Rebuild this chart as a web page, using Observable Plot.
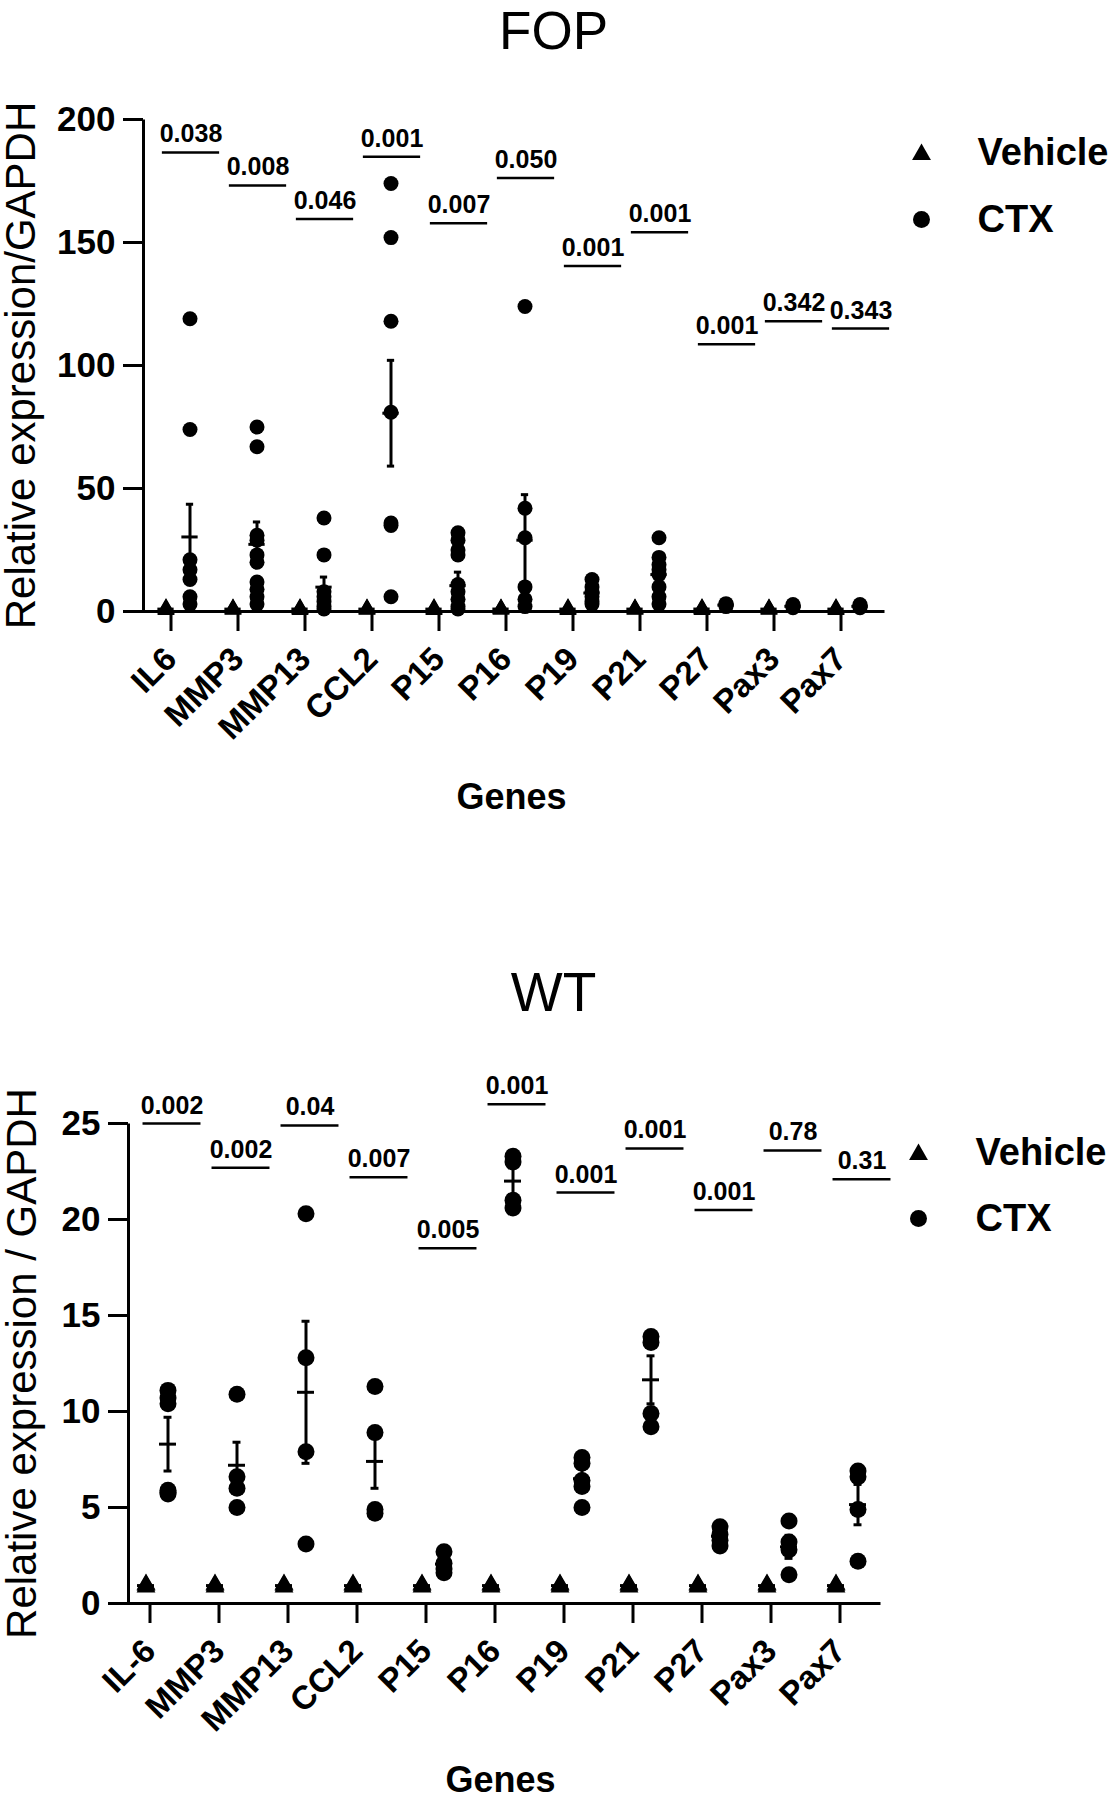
<!DOCTYPE html>
<html><head><meta charset="utf-8">
<script src="https://cdn.jsdelivr.net/npm/d3@7"></script>
<script src="https://cdn.jsdelivr.net/npm/@observablehq/plot@0.6"></script>
<style>
html,body{margin:0;padding:0;background:#fff;}
body{width:1111px;height:1800px;overflow:hidden;}
#chart svg{display:block;}
</style></head><body><div id="chart"></div>
<script>
// ---------- FOP panel data ----------
const genesFOP = ["IL6","MMP3","MMP13","CCL2","P15","P16","P19","P21","P27","Pax3","Pax7"];
const fopVehicle = [
  [0.6,1.0,1.4,0.9],[0.7,1.0,1.3,0.9],[0.6,1.0,1.4,1.0],[0.7,1.0,1.3,0.9],
  [0.6,1.0,1.4,0.9],[0.7,1.0,1.3,1.0],[0.6,1.0,1.4,0.9],[0.7,1.0,1.3,0.9],
  [0.6,1.0,1.4,1.0],[0.7,1.0,1.3,0.9],[0.6,1.0,1.4,0.9]
];
const fopCTX = [
  [119,74,21,17,13,6,3],
  [75,67,31,29,23,20,12,9,6,3],
  [38,23,8,6,4,2,1],
  [174,152,118,81,36,35,6],
  [32,29,25,23,11,8,5,2,1],
  [124,42,30,10,5,2],
  [13,10,8,6,4,3],
  [30,22,19,17,15,10,6,3],
  [3.2,2.8,2.4,2.0],
  [2.8,2.3,1.9,1.5],
  [2.8,2.3,1.9,1.5]
];
const fopCTXMean = [30.3,27.3,9.9,80.6,10.5,29,7.5,15,2.6,2.1,2.1];
const fopCTXSem  = [13.3,9.1,4.1,21.5,5.5,18.5,1.5,3,0.3,0.3,0.3];
const fopP  = ["0.038","0.008","0.046","0.001","0.007","0.050","0.001","0.001","0.001","0.342","0.343"];
const fopPY = [186.6,173.2,159.6,184.9,157.8,176.2,140.4,154.2,108.6,118,115];
const fopYTicks = [0,50,100,150,200];

// ---------- WT panel data ----------
const genesWT = ["IL-6","MMP3","MMP13","CCL2","P15","P16","P19","P21","P27","Pax3","Pax7"];
const wtVehicle = [
  [0.85,0.95,1.0],[0.85,0.95,1.0],[0.85,0.95,1.0],[0.85,0.95,1.0],
  [0.85,0.95,1.0],[0.85,0.95,1.0],[0.85,0.95,1.0],[0.85,0.95,1.0],
  [0.85,0.95,1.0],[0.85,0.95,1.0],[0.85,0.95,1.0]
];
const wtCTX = [
  [11.1,10.7,10.4,5.9,5.8,5.7],
  [10.9,6.6,6.0,5.0],
  [20.3,12.8,7.9,3.1],
  [11.3,8.9,4.9,4.7],
  [2.7,2.1,1.8,1.6],
  [23.3,23.0,21.0,20.6],
  [7.6,7.3,6.4,6.1,5.0],
  [13.9,13.6,9.9,9.2],
  [4.0,3.6,3.3,3.0],
  [4.3,3.2,2.8,1.5],
  [6.9,6.6,4.9,2.2]
];
const wtCTXMean = [8.3,7.2,11.0,7.4,2.05,22.0,6.5,11.65,3.5,2.95,5.15];
const wtCTXSem  = [1.4,1.2,3.7,1.4,0.25,0.7,0.5,1.25,0.2,0.6,1.05];
const wtP  = ["0.002","0.002","0.04","0.007","0.005","0.001","0.001","0.001","0.001","0.78","0.31"];
const wtPY = [25.0,22.7,24.9,22.2,18.5,26.0,21.4,23.7,20.5,23.6,22.1];
const wtYTicks = [0,5,10,15,20,25];

const legendLabels = ["Vehicle","CTX"];

const W = 1111;
const FONT = "'Liberation Sans', Arial, Helvetica, sans-serif";

function panel(o) {
  const fw = W - o.ml - o.mr;
  const fh = o.h - o.mt - o.mb;
  const bw = (fw - o.insetL) / o.genes.length;
  const vehRows = o.genes.flatMap((g, i) => o.veh[i].map(v => ({gene: g, value: v})));
  const ctxRows = o.genes.flatMap((g, i) => o.ctx[i].map(v => ({gene: g, value: v})));
  const vehStat = o.genes.map((g, i) => ({gene: g, mean: d3.mean(o.veh[i])}));
  const ctxStat = o.genes.map((g, i) => ({gene: g, mean: o.mean[i], lo: o.mean[i] - o.sem[i], hi: o.mean[i] + o.sem[i]}));
  const pRows = o.genes.map((g, i) => ({gene: g, y: o.pY[i], label: o.p[i]}));
  const ins = w => (bw - w) / 2;
  const right = W - o.mr;
  return Plot.plot({
    width: W, height: o.h,
    marginLeft: o.ml, marginRight: o.mr, marginTop: o.mt, marginBottom: o.mb,
    style: {fontFamily: FONT, background: "white", color: "black", overflow: "visible"},
    x: {type: "band", domain: o.genes, paddingInner: 0, paddingOuter: 0, insetLeft: o.insetL, axis: null},
    y: {domain: o.yDomain, axis: null},
    marks: [
      Plot.frame({stroke: "black", strokeWidth: 3, strokeDasharray: `0,${fw + fh},${fw + fh}`}),
      Plot.axisY({ticks: o.yTicks, tickSize: 20, tickPadding: 8, fontSize: 35, fontWeight: "bold", strokeWidth: 3, label: null}),
      Plot.axisX({tickSize: 20, tickRotate: -45, tickPadding: 22, fontSize: 33, fontWeight: "bold", strokeWidth: 3, label: null, dx: -6}),
      // CTX error bars
      Plot.ruleX(ctxStat, {x: "gene", y1: "lo", y2: "hi", dx: o.ctxDx, strokeWidth: 3}),
      Plot.tickY(ctxStat, {x: "gene", y: "hi", dx: o.ctxDx, insetLeft: ins(8), insetRight: ins(8), strokeWidth: 3}),
      Plot.tickY(ctxStat, {x: "gene", y: "lo", dx: o.ctxDx, insetLeft: ins(8), insetRight: ins(8), strokeWidth: 3}),
      // points
      Plot.dot(vehRows, {x: "gene", y: "value", dx: o.vehDx, symbol: "triangle", r: o.rv, fill: "black"}),
      Plot.tickY(vehStat, {x: "gene", y: "mean", dx: o.vehDx, insetLeft: ins(17), insetRight: ins(17), strokeWidth: 3}),
      Plot.dot(ctxRows, {x: "gene", y: "value", dx: o.ctxDx, symbol: "circle", r: o.rc, fill: "black"}),
      Plot.tickY(ctxStat, {x: "gene", y: "mean", dx: o.ctxDx, insetLeft: ins(17), insetRight: ins(17), strokeWidth: 3}),
      // p-value annotations
      Plot.tickY(pRows, {x: "gene", y: "y", dx: o.pDx, insetLeft: ins(58), insetRight: ins(58), strokeWidth: 2.5}),
      Plot.text(pRows, {x: "gene", y: "y", text: "label", dx: o.pDx, dy: -10, lineAnchor: "bottom", fontSize: 25, fontWeight: "bold"}),
      // title
      Plot.text([o.title], {text: d => d, frameAnchor: "top-left", dx: 553 - o.ml, dy: o.titleBase - o.mt, lineAnchor: "bottom", textAnchor: "middle", fontSize: o.titleSize}),
      // y label
      Plot.text([o.ylabel], {text: d => d, frameAnchor: "left", dx: o.ylabX - o.ml, rotate: -90, lineAnchor: "middle", textAnchor: "middle", fontSize: 42}),
      // x label
      Plot.text(["Genes"], {text: d => d, frameAnchor: "bottom", dx: o.genesX - (o.ml + fw / 2), dy: o.genesBase - (o.mt + fh), lineAnchor: "bottom", textAnchor: "middle", fontSize: 36, fontWeight: "bold"}),
      // legend
      Plot.dot([0], {frameAnchor: "top-right", dx: o.legSymX - right, dy: o.legY[0] - o.mt + 2, symbol: "triangle", r: 7, fill: "black"}),
      Plot.dot([0], {frameAnchor: "top-right", dx: o.legSymX - right, dy: o.legY[1] - o.mt, symbol: "circle", r: 8.5, fill: "black"}),
      Plot.text(legendLabels.slice(0, 1), {text: d => d, frameAnchor: "top-right", dx: o.legTextX - right, dy: o.legY[0] - o.mt, lineAnchor: "middle", textAnchor: "start", fontSize: 38, fontWeight: "bold"}),
      Plot.text(legendLabels.slice(1, 2), {text: d => d, frameAnchor: "top-right", dx: o.legTextX - right, dy: o.legY[1] - o.mt, lineAnchor: "middle", textAnchor: "start", fontSize: 38, fontWeight: "bold"})
    ]
  });
}

const chart = document.getElementById("chart");
chart.appendChild(panel({
  title: "FOP", ylabel: "Relative expression/GAPDH",
  genes: genesFOP, veh: fopVehicle, ctx: fopCTX, mean: fopCTXMean, sem: fopCTXSem,
  p: fopP, pY: fopPY, yTicks: fopYTicks, yDomain: [0, 200],
  h: 880, ml: 143, mr: 227, mt: 119, mb: 269, insetL: -4,
  vehDx: -11, ctxDx: 13, pDx: 14, rv: 6.4, rc: 7.5,
  titleBase: 48, titleSize: 53, ylabX: 21, genesX: 511, genesBase: 808,
  legSymX: 921, legTextX: 977, legY: [152, 219]
}));
chart.appendChild(panel({
  title: "WT", ylabel: "Relative expression / GAPDH",
  genes: genesWT, veh: wtVehicle, ctx: wtCTX, mean: wtCTXMean, sem: wtCTXSem,
  p: wtP, pY: wtPY, yTicks: wtYTicks, yDomain: [0, 25],
  h: 920, ml: 128, mr: 231, mt: 243, mb: 197, insetL: -7.5,
  vehDx: -10, ctxDx: 12, pDx: 16, rv: 7, rc: 8.5,
  titleBase: 130, titleSize: 55, ylabX: 22, genesX: 500, genesBase: 911,
  legSymX: 918, legTextX: 975, legY: [272, 338]
}));
</script></body></html>
